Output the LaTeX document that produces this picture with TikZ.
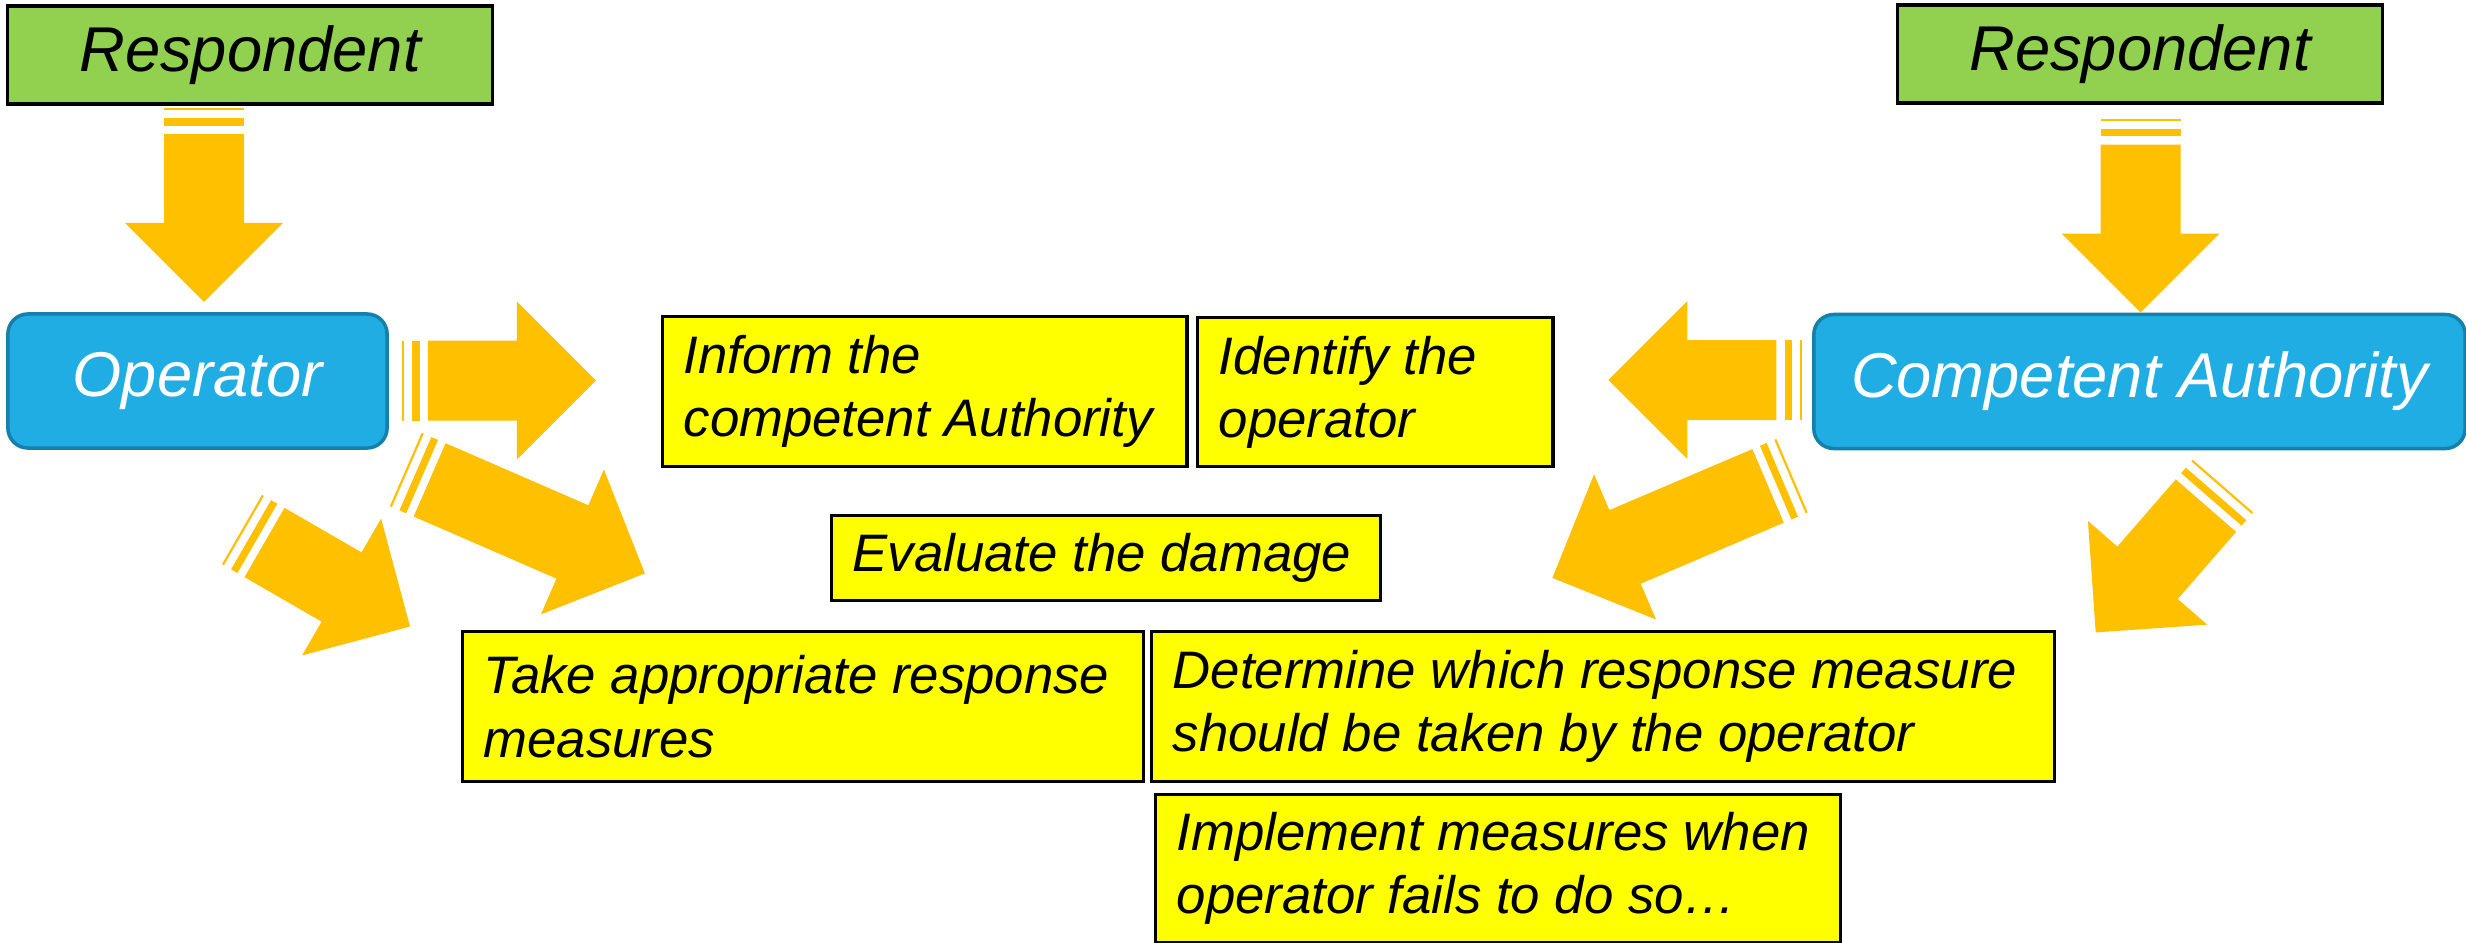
\documentclass[tikz,border=0pt]{standalone}
\usepackage{fontspec}
\setmainfont{Liberation Sans}
\usepackage{tikz}

\definecolor{respgreen}{HTML}{92D050}
\definecolor{actorblue}{HTML}{1FADE4}
\definecolor{actoredge}{HTML}{1680AC}
\definecolor{taskyellow}{HTML}{FFFF00}
\definecolor{arroworange}{HTML}{FFC000}

\newcommand{\striparrow}[3]{%
  \begin{scope}[shift={#1},rotate=#2]
    \fill[arroworange] (0,-40) rectangle (2.2,40);
    \fill[arroworange] (10.5,-40) rectangle (17.8,40);
    \fill[arroworange] (26,-40) -- ({26+#3},-40) -- ({26+#3},-79) -- ({105+#3},0)
      -- ({26+#3},79) -- ({26+#3},40) -- (26,40) -- cycle;
  \end{scope}}

\begin{document}
\begin{tikzpicture}[x=0.01cm,y=-0.01cm,
	resp/.style={draw=black,line width=0.9pt,fill=respgreen,minimum width=4.84cm,minimum height=0.98cm,font=\fontsize{18}{21.6}\selectfont\itshape},
	actor/.style={draw=actoredge,line width=1pt,fill=actorblue,rounded corners=0.2cm,minimum height=1.34cm,text=white,font=\fontsize{18}{21.6}\selectfont\itshape},
	task/.style={draw=black,line width=0.9pt,fill=taskyellow,anchor=north west,align=flush left,inner xsep=6pt,font=\fontsize{15}{18}\selectfont\itshape,execute at begin node={\hyphenpenalty=10000}}]
	\fill[white] (0,0) rectangle (2466,942);
	\useasboundingbox (0,0) rectangle (2466,942);

	\node[resp] (respL) at (250,55) {Respondent};
	\node[resp] (respR) at (2140,54) {Respondent};
	\node[actor,minimum width=3.79cm] (oper) at (197.5,381) {Operator};
	\node[actor,minimum width=6.51cm] (auth) at (2139.5,381.5) {Competent Authority};

	\node[task,text width=4.82cm,minimum height=1.50cm] (inform) at (661,315) {Inform the\\competent Authority};
	\node[task,text width=3.13cm,minimum height=1.49cm] (identify) at (1196,316) {Identify the\\operator};
	\node[task,text width=5.06cm,minimum height=0.855cm] (evaluate) at (830,513.5) {Evaluate the damage};
	\node[task,text width=6.38cm,minimum height=1.50cm] (take) at (461,630) {Take appropriate response\\measures};
	\node[task,text width=8.60cm,minimum height=1.50cm] (determine) at (1150,630) {Determine which response measure\\should be taken by the operator};
	\node[task,text width=6.42cm,minimum height=1.48cm] (implement) at (1154,793) {Implement measures when\\operator fails to do so…};

	\striparrow{(204,107.8)}{-90}{89}
	\striparrow{(2140.5,118.5)}{-90}{89}
	\striparrow{(401.8,380.5)}{0}{89}
	\striparrow{(1802.4,380)}{180}{89}
	\striparrow{(405.8,469.5)}{-23.5}{155.7}
	\striparrow{(1792,475.7)}{-156.9}{155.5}
	\striparrow{(242,529.5)}{-30}{89}
	\striparrow{(2223,486)}{-131}{89}
\end{tikzpicture}
\end{document}
